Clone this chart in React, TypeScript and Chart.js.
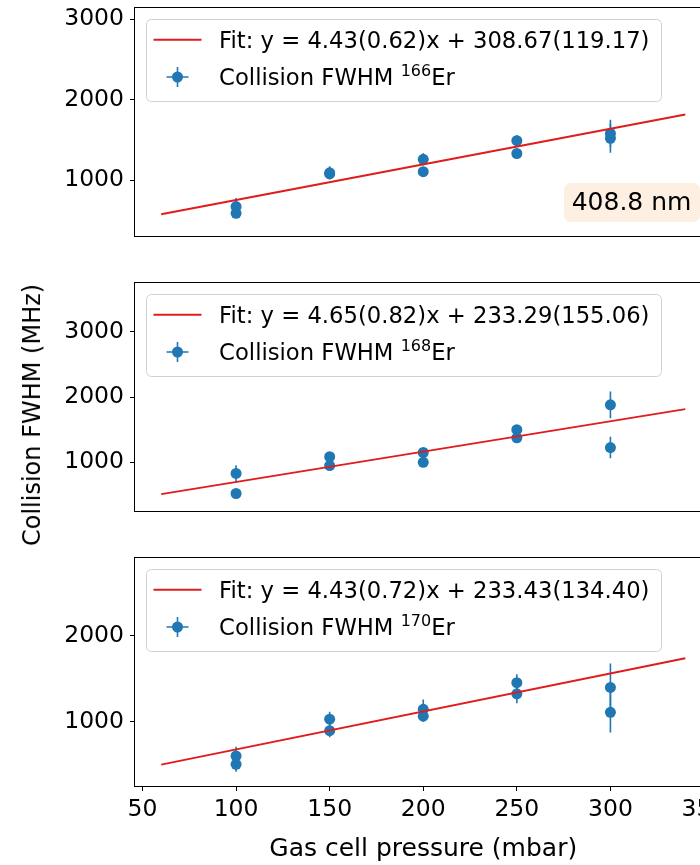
import React, { useEffect, useRef } from "react";
import { Chart, registerables } from "chart.js";

Chart.register(...registerables);

const FONT = "'DejaVu Sans', 'Liberation Sans', sans-serif";
const BLUE = "#1f77b4";
const RED = "#e01c1c";

// ---- data ----
const pressure = [100, 100, 150, 150, 200, 200, 250, 250, 300, 300];

const fwhm166 = [670, 585, 1090, 1075, 1257, 1103, 1490, 1330, 1580, 1519];
const err166 = [105, 50, 80, 50, 75, 50, 70, 50, 170, 180];

const fwhm168 = [830, 522, 1085, 950, 1150, 1000, 1500, 1375, 1880, 1225];
const err168 = [125, 40, 50, 50, 60, 50, 50, 50, 205, 165];

const fwhm170 = [600, 503, 1030, 895, 1145, 1065, 1455, 1325, 1400, 1110];
const err170 = [108, 86, 85, 77, 115, 65, 100, 110, 280, 235];

const fitPressure = [60, 340];
const fit166 = [574.47, 1814.87];
const fit168 = [512.29, 1814.29];
const fit170 = [499.23, 1739.63];

const xTicks = [50, 100, 150, 200, 250, 300, 350];
const yTicks166 = [1000, 2000, 3000];
const yTicks168 = [1000, 2000, 3000];
const yTicks170 = [1000, 2000];

const fitLabels = [
  "Fit: y = 4.43(0.62)x + 308.67(119.17)",
  "Fit: y = 4.65(0.82)x + 233.29(155.06)",
  "Fit: y = 4.43(0.72)x + 233.43(134.40)",
];
const isotopes = ["166", "168", "170"];
const wavelengthNote = "408.8 nm";
const xTitle = "Gas cell pressure (mbar)";
const yTitle = "Collision FWHM (MHz)";

const xMin = 46;
const xMax = 354;
const yRanges = [
  [303, 3141],
  [254, 3746],
  [250, 2910],
];

function roundRect(ctx: CanvasRenderingContext2D, x: number, y: number, w: number, h: number, r: number) {
  ctx.beginPath();
  ctx.moveTo(x + r, y);
  ctx.lineTo(x + w - r, y);
  ctx.arcTo(x + w, y, x + w, y + r, r);
  ctx.lineTo(x + w, y + h - r);
  ctx.arcTo(x + w, y + h, x + w - r, y + h, r);
  ctx.lineTo(x + r, y + h);
  ctx.arcTo(x, y + h, x, y + h - r, r);
  ctx.lineTo(x, y + r);
  ctx.arcTo(x, y, x + r, y, r);
  ctx.closePath();
}

const decorPlugin = {
  id: "decor",
  beforeDatasetsDraw(chart: any) {
    const ctx: CanvasRenderingContext2D = chart.ctx;
    const ca = chart.chartArea;
    const yScale = chart.scales.y;
    ctx.save();
    ctx.beginPath();
    ctx.rect(ca.left, ca.top, ca.right - ca.left, ca.bottom - ca.top);
    ctx.clip();
    ctx.strokeStyle = BLUE;
    ctx.lineWidth = 1.6;
    chart.data.datasets.forEach((ds: any, di: number) => {
      if (!ds.errors) return;
      const meta = chart.getDatasetMeta(di);
      meta.data.forEach((pt: any, i: number) => {
        const v = ds.data[i].y;
        const e = ds.errors[i];
        ctx.beginPath();
        ctx.moveTo(pt.x, yScale.getPixelForValue(v + e));
        ctx.lineTo(pt.x, yScale.getPixelForValue(v - e));
        ctx.stroke();
      });
    });
    ctx.restore();
  },
  afterDraw(chart: any, _args: any, opts: any) {
    const ctx: CanvasRenderingContext2D = chart.ctx;
    const ca = chart.chartArea;
    ctx.save();
    // frame
    ctx.strokeStyle = "#000";
    ctx.lineWidth = 1;
    const fl = Math.round(ca.left) - 0.5;
    const ft = Math.round(ca.top) - 0.5;
    const fr = Math.round(ca.right) + 0.5;
    const fb = Math.round(ca.bottom) + 0.5;
    ctx.strokeRect(fl, ft, fr - fl, fb - ft);

    // legend
    const lx = ca.left + 11.5;
    const ly = ca.top + 11.5;
    const lw = 515;
    const lh = 82;
    roundRect(ctx, lx, ly, lw, lh, 5);
    ctx.fillStyle = "rgba(255,255,255,0.85)";
    ctx.fill();
    ctx.strokeStyle = "#d0d0d0";
    ctx.lineWidth = 1;
    ctx.stroke();

    const b1 = ly + 28.4;
    const b2 = ly + 65.7;
    const c1 = ly + 20.2;
    const c2 = ly + 57.5;
    const tx = lx + 72.6;

    ctx.strokeStyle = RED;
    ctx.lineWidth = 2;
    ctx.beginPath();
    ctx.moveTo(lx + 7, c1);
    ctx.lineTo(lx + 55, c1);
    ctx.stroke();

    ctx.strokeStyle = BLUE;
    ctx.lineWidth = 1.6;
    ctx.beginPath();
    ctx.moveTo(lx + 20, c2);
    ctx.lineTo(lx + 42, c2);
    ctx.moveTo(lx + 31, c2 - 10);
    ctx.lineTo(lx + 31, c2 + 10);
    ctx.stroke();
    ctx.fillStyle = BLUE;
    ctx.beginPath();
    ctx.arc(lx + 31, c2, 5.5, 0, Math.PI * 2);
    ctx.fill();

    ctx.fillStyle = "#000";
    ctx.textBaseline = "alphabetic";
    ctx.textAlign = "left";
    ctx.font = `22.7px ${FONT}`;
    ctx.fillText(opts.fitLabel, tx, b1);
    const part1 = "Collision FWHM ";
    ctx.fillText(part1, tx, b2);
    let x = tx + ctx.measureText(part1).width;
    ctx.font = `16px ${FONT}`;
    ctx.fillText(opts.isotope, x, b2 - 9);
    x += ctx.measureText(opts.isotope).width;
    ctx.font = `22.7px ${FONT}`;
    ctx.fillText("Er", x, b2);

    if (opts.note) {
      const bx = ca.left + 429;
      const by = ca.bottom - 53;
      roundRect(ctx, bx, by, 136, 39, 7);
      ctx.fillStyle = "#fdf0e3";
      ctx.fill();
      ctx.fillStyle = "#000";
      ctx.font = `25px ${FONT}`;
      ctx.fillText(opts.note, ca.left + 436.7, ca.bottom - 26);
    }
    ctx.restore();
  },
};

type PanelProps = {
  top: number;
  height: number;
  padTop: number;
  padBottom: number;
  yRange: number[];
  yTicks: number[];
  fwhm: number[];
  err: number[];
  fit: number[];
  fitLabel: string;
  isotope: string;
  note?: string;
  showX: boolean;
};

function Panel(props: PanelProps) {
  const ref = useRef<HTMLCanvasElement | null>(null);
  useEffect(() => {
    if (!ref.current) return;
    const tickFont = { family: FONT, size: 23.5 };
    const chart = new Chart(ref.current, {
      type: "scatter",
      data: {
        datasets: [
          {
            type: "line",
            label: "fit",
            data: fitPressure.map((p, i) => ({ x: p, y: props.fit[i] })),
            borderColor: RED,
            borderWidth: 2,
            pointRadius: 0,
            fill: false,
          } as any,
          {
            type: "scatter",
            label: "data",
            data: pressure.map((p, i) => ({ x: p, y: props.fwhm[i] })),
            errors: props.err,
            backgroundColor: BLUE,
            borderColor: BLUE,
            borderWidth: 0,
            pointRadius: 5.5,
          } as any,
        ],
      },
      options: {
        responsive: false,
        maintainAspectRatio: false,
        animation: false,
        layout: { padding: { top: props.padTop, bottom: props.padBottom, left: 0, right: 0 } },
        plugins: {
          legend: { display: false },
          tooltip: { enabled: false },
          decor: { fitLabel: props.fitLabel, isotope: props.isotope, note: props.note || "" },
        } as any,
        scales: {
          x: {
            type: "linear",
            display: props.showX,
            min: xMin,
            max: xMax,
            afterBuildTicks: (s: any) => {
              s.ticks = xTicks.map((v) => ({ value: v }));
            },
            ticks: {
              font: tickFont,
              color: "#000",
              padding: 5,
              maxRotation: 0,
              autoSkip: false,
              callback: (v: any) => String(v),
            },
            grid: { drawOnChartArea: false, drawTicks: true, tickLength: 5, color: "#000", lineWidth: 1 },
            border: { display: false },
            title: {
              display: true,
              text: xTitle,
              color: "#000",
              font: { family: FONT, size: 25 },
              padding: { top: 0, bottom: 1 },
            },
            afterFit: (s: any) => {
              if (!props.showX) return;
              s.height = 79;
              s.paddingLeft = 0;
              s.paddingRight = 0;
            },
          },
          y: {
            type: "linear",
            min: props.yRange[0],
            max: props.yRange[1],
            afterBuildTicks: (s: any) => {
              s.ticks = props.yTicks.map((v) => ({ value: v }));
            },
            ticks: {
              font: tickFont,
              color: "#000",
              padding: 6,
              callback: (v: any) => String(v),
            },
            grid: { drawOnChartArea: false, drawTicks: true, tickLength: 5, color: "#000", lineWidth: 1 },
            border: { display: false },
            afterFit: (s: any) => {
              s.width = 135;
              s.paddingTop = 0;
              s.paddingBottom = 0;
            },
          },
        },
      } as any,
      plugins: [decorPlugin as any],
    });
    return () => chart.destroy();
  }, []);
  return (
    <canvas
      ref={ref}
      width={717}
      height={props.height}
      style={{ position: "absolute", left: 0, top: props.top, width: 717, height: props.height, display: "block" }}
    />
  );
}

export default function App() {
  return (
    <div
      style={{
        position: "absolute",
        left: 0,
        top: 0,
        width: 700,
        height: 865,
        overflow: "hidden",
        background: "#fff",
      }}
    >
      <Panel top={0} height={250} padTop={8} padBottom={14} yRange={yRanges[0]} yTicks={yTicks166} fwhm={fwhm166} err={err166} fit={fit166} fitLabel={fitLabels[0]} isotope={isotopes[0]} note={wavelengthNote} showX={false} />
      <Panel top={270} height={250} padTop={13} padBottom={9} yRange={yRanges[1]} yTicks={yTicks168} fwhm={fwhm168} err={err168} fit={fit168} fitLabel={fitLabels[1]} isotope={isotopes[1]} showX={false} />
      <Panel top={540} height={325} padTop={18} padBottom={0} yRange={yRanges[2]} yTicks={yTicks170} fwhm={fwhm170} err={err170} fit={fit170} fitLabel={fitLabels[2]} isotope={isotopes[2]} showX={true} />
      <div
        style={{
          position: "absolute",
          left: 32,
          top: 415,
          transform: "translate(-50%, -50%) rotate(-90deg)",
          fontFamily: FONT,
          fontSize: 24,
          color: "#000",
          whiteSpace: "nowrap",
          lineHeight: 1,
        }}
      >
        {yTitle}
      </div>
    </div>
  );
}
